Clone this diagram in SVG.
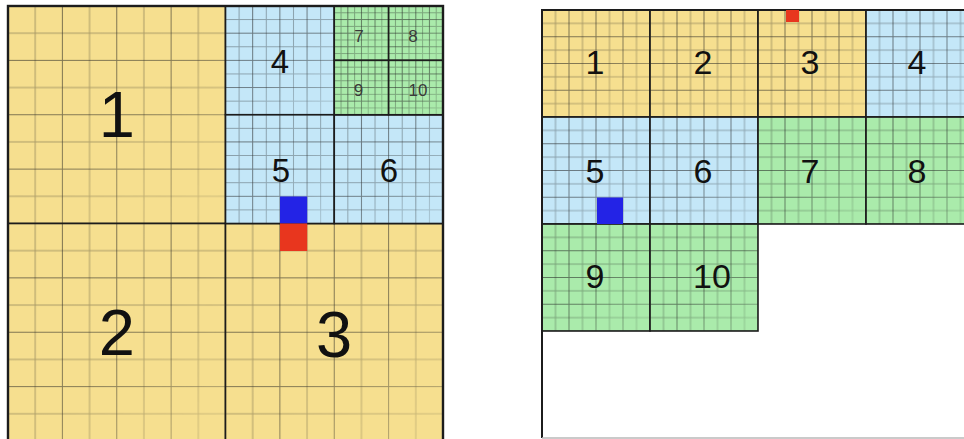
<svg xmlns="http://www.w3.org/2000/svg" width="964" height="439" viewBox="0 0 964 439">
<style>
.y{fill:#F6DF8F}
.b{fill:#C4E7F8}
.g{fill:#AAEBAB}
.bd{fill:none;stroke:#1c1c1c;stroke-width:1.6}
.gl{mask:url(#fade)}
.t{font-family:"Liberation Sans",Arial,Helvetica,sans-serif;text-anchor:middle;fill:#111}
.big{font-size:65px}
.mid{font-size:33px}
.sm{font-size:17px;fill:#3a3a3a}
.rt{font-size:34px}
.dk{fill:none;stroke:#222;stroke-opacity:.6;stroke-width:1}
.lt{fill:none;stroke:#222;stroke-opacity:.38;stroke-width:1}
</style>
<defs>
<linearGradient id="fadeGrad" x1="0" y1="0" x2="1" y2="1">
<stop offset="0" stop-color="#fff"/>
<stop offset="0.55" stop-color="#e0e0e0"/>
<stop offset="1" stop-color="#6a6a6a"/>
</linearGradient>
<mask id="fade" maskContentUnits="objectBoundingBox">
<rect width="1" height="1" fill="url(#fadeGrad)"/>
</mask>
<pattern id="pBig" patternUnits="userSpaceOnUse" x="7.5" y="5.5" width="54.375" height="54.375">
<path class="dk" d="M0 0.5H54.375M0.5 0V54.375"/>
<path class="lt" d="M0 27.6875H54.375M27.6875 0V54.375"/>
</pattern>
<pattern id="pMid" patternUnits="userSpaceOnUse" x="7.5" y="5.5" width="27.1875" height="27.1875">
<path class="dk" d="M0 0.5H27.1875M0.5 0V27.1875"/>
<path class="lt" d="M0 14.09375H27.1875M14.09375 0V27.1875"/>
</pattern>
<pattern id="pSm" patternUnits="userSpaceOnUse" x="7.5" y="5.5" width="13.59375" height="13.59375">
<path class="dk" d="M0 0.5H13.59375M0.5 0V13.59375"/>
<path class="lt" d="M0 7.297H13.59375M7.297 0V13.59375"/>
</pattern>
<pattern id="pR" patternUnits="userSpaceOnUse" x="541.5" y="9.5" width="27" height="26.75">
<path class="dk" d="M0 0.5H27M0.5 0V26.75"/>
<path class="lt" d="M0 13.875H27M14 0V26.75"/>
</pattern>
</defs>
<rect width="964" height="439" fill="#fff"/>

<!-- Left figure -->
<g id="L1">
<rect class="y" x="8" y="6" width="217.5" height="217.5"/>
<rect class="gl" x="8" y="6" width="217.5" height="217.5" fill="url(#pBig)"/>
<rect class="bd" x="8" y="6" width="217.5" height="217.5"/>
<text class="t big" x="116.75" y="137">1</text>
</g>
<g id="L2">
<rect class="y" x="8" y="223.5" width="217.5" height="217.5"/>
<rect class="gl" x="8" y="223.5" width="217.5" height="217.5" fill="url(#pBig)"/>
<rect class="bd" x="8" y="223.5" width="217.5" height="217.5"/>
<text class="t big" x="116.75" y="355">2</text>
</g>
<g id="L3">
<rect class="y" x="225.5" y="223.5" width="217.5" height="217.5"/>
<rect class="gl" x="225.5" y="223.5" width="217.5" height="217.5" fill="url(#pBig)"/>
<rect class="bd" x="225.5" y="223.5" width="217.5" height="217.5"/>
<text class="t big" x="334" y="357">3</text>
</g>
<g id="L4">
<rect class="b" x="225.5" y="6" width="108.75" height="108.75"/>
<rect class="gl" x="225.5" y="6" width="108.75" height="108.75" fill="url(#pMid)"/>
<rect class="bd" x="225.5" y="6" width="108.75" height="108.75"/>
<text class="t mid" x="280" y="73">4</text>
</g>
<g id="L5">
<rect class="b" x="225.5" y="114.75" width="108.75" height="108.75"/>
<rect class="gl" x="225.5" y="114.75" width="108.75" height="108.75" fill="url(#pMid)"/>
<rect class="bd" x="225.5" y="114.75" width="108.75" height="108.75"/>
<text class="t mid" x="281" y="182">5</text>
</g>
<g id="L6">
<rect class="b" x="334.25" y="114.75" width="108.75" height="108.75"/>
<rect class="gl" x="334.25" y="114.75" width="108.75" height="108.75" fill="url(#pMid)"/>
<rect class="bd" x="334.25" y="114.75" width="108.75" height="108.75"/>
<text class="t mid" x="389" y="182">6</text>
</g>
<g id="L7">
<rect class="g" x="334.25" y="6" width="54.375" height="54.375"/>
<rect class="gl" x="334.25" y="6" width="54.375" height="54.375" fill="url(#pSm)"/>
<rect class="bd" x="334.25" y="6" width="54.375" height="54.375"/>
<text class="t sm" x="359" y="42">7</text>
</g>
<g id="L8">
<rect class="g" x="388.625" y="6" width="54.375" height="54.375"/>
<rect class="gl" x="388.625" y="6" width="54.375" height="54.375" fill="url(#pSm)"/>
<rect class="bd" x="388.625" y="6" width="54.375" height="54.375"/>
<text class="t sm" x="413" y="42">8</text>
</g>
<g id="L9">
<rect class="g" x="334.25" y="60.375" width="54.375" height="54.375"/>
<rect class="gl" x="334.25" y="60.375" width="54.375" height="54.375" fill="url(#pSm)"/>
<rect class="bd" x="334.25" y="60.375" width="54.375" height="54.375"/>
<text class="t sm" x="358.5" y="96">9</text>
</g>
<g id="L10">
<rect class="g" x="388.625" y="60.375" width="54.375" height="54.375"/>
<rect class="gl" x="388.625" y="60.375" width="54.375" height="54.375" fill="url(#pSm)"/>
<rect class="bd" x="388.625" y="60.375" width="54.375" height="54.375"/>
<text class="t sm" x="418" y="96">10</text>
</g>
<rect id="L-frame" x="8" y="6" width="435" height="435" fill="none" stroke="#1c1c1c" stroke-width="2.4"/>
<g id="L-blue"><rect x="280" y="196.5" width="27.2" height="27" fill="#2323E6"/></g>
<g id="L-red"><rect x="280" y="223.5" width="27.2" height="27.5" fill="#E8361E"/></g>

<!-- Right figure -->
<rect id="R-frame-fill" x="542" y="10" width="432" height="428" fill="#fff"/>
<g id="R1">
<rect class="y" x="542" y="10" width="108" height="107"/>
<rect class="gl" x="542" y="10" width="108" height="107" fill="url(#pR)"/>
<rect class="bd" x="542" y="10" width="108" height="107"/>
<text class="t rt" x="595" y="74">1</text>
</g>
<g id="R2">
<rect class="y" x="650" y="10" width="108" height="107"/>
<rect class="gl" x="650" y="10" width="108" height="107" fill="url(#pR)"/>
<rect class="bd" x="650" y="10" width="108" height="107"/>
<text class="t rt" x="703" y="74">2</text>
</g>
<g id="R3">
<rect class="y" x="758" y="10" width="108" height="107"/>
<rect class="gl" x="758" y="10" width="108" height="107" fill="url(#pR)"/>
<rect class="bd" x="758" y="10" width="108" height="107"/>
<text class="t rt" x="810" y="74">3</text>
</g>
<g id="R4">
<rect class="b" x="866" y="10" width="108" height="107"/>
<rect class="gl" x="866" y="10" width="108" height="107" fill="url(#pR)"/>
<rect class="bd" x="866" y="10" width="108" height="107"/>
<text class="t rt" x="917" y="74">4</text>
</g>
<g id="R5">
<rect class="b" x="542" y="117" width="108" height="107"/>
<rect class="gl" x="542" y="117" width="108" height="107" fill="url(#pR)"/>
<rect class="bd" x="542" y="117" width="108" height="107"/>
<text class="t rt" x="595" y="183">5</text>
</g>
<g id="R6">
<rect class="b" x="650" y="117" width="108" height="107"/>
<rect class="gl" x="650" y="117" width="108" height="107" fill="url(#pR)"/>
<rect class="bd" x="650" y="117" width="108" height="107"/>
<text class="t rt" x="703" y="183">6</text>
</g>
<g id="R7">
<rect class="g" x="758" y="117" width="108" height="107"/>
<rect class="gl" x="758" y="117" width="108" height="107" fill="url(#pR)"/>
<rect class="bd" x="758" y="117" width="108" height="107"/>
<text class="t rt" x="810" y="183">7</text>
</g>
<g id="R8">
<rect class="g" x="866" y="117" width="108" height="107"/>
<rect class="gl" x="866" y="117" width="108" height="107" fill="url(#pR)"/>
<rect class="bd" x="866" y="117" width="108" height="107"/>
<text class="t rt" x="917" y="183">8</text>
</g>
<g id="R9">
<rect class="g" x="542" y="224" width="108" height="107"/>
<rect class="gl" x="542" y="224" width="108" height="107" fill="url(#pR)"/>
<rect class="bd" x="542" y="224" width="108" height="107"/>
<text class="t rt" x="595" y="288">9</text>
</g>
<g id="R10">
<rect class="g" x="650" y="224" width="108" height="107"/>
<rect class="gl" x="650" y="224" width="108" height="107" fill="url(#pR)"/>
<rect class="bd" x="650" y="224" width="108" height="107"/>
<text class="t rt" x="712" y="288">10</text>
</g>
<g id="R-frame">
<path d="M542 438V10H974" fill="none" stroke="#1c1c1c" stroke-width="2"/>
<path d="M542 438H974" fill="none" stroke="#b8b8b8" stroke-width="1.5"/>
</g>
<g id="R-blue"><rect x="597" y="197.5" width="26" height="26.5" fill="#2323E6"/></g>
<g id="R-red"><rect x="786" y="10" width="13" height="12" fill="#E8361E"/></g>
</svg>
